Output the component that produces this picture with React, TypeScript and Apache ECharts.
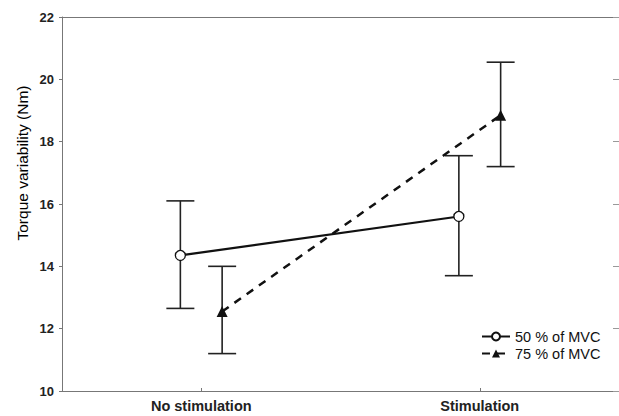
import React, { useEffect, useRef } from "react";
import * as echarts from "echarts";

const categories = ["No stimulation", "Stimulation"];
const seriesNames = ["50 % of MVC", "75 % of MVC"];
const mean50 = [14.35, 15.6];
const low50 = [12.65, 13.7];
const high50 = [16.1, 17.55];
const mean75 = [12.55, 18.85];
const low75 = [11.2, 17.2];
const high75 = [14.0, 20.55];
const yTicks = [10, 12, 14, 16, 18, 20, 22];

const OFFSET = 0.075;
const FONT = "Liberation Sans, Arial, sans-serif";

export default function App() {
  const ref = useRef<HTMLDivElement>(null);
  useEffect(() => {
    if (!ref.current) return;
    const chart = echarts.init(ref.current, null, { renderer: "svg" });
    const x50 = categories.map((_, i) => i - OFFSET);
    const x75 = categories.map((_, i) => i + OFFSET);
    const errData = [
      ...x50.map((x, i) => [x, low50[i], high50[i]]),
      ...x75.map((x, i) => [x, low75[i], high75[i]]),
    ];
    const errStyle = { stroke: "#222", lineWidth: 1.6 };
    chart.setOption({
      animation: false,
      textStyle: { fontFamily: FONT },
      grid: { left: 62, top: 17, width: 560, height: 374 },
      graphic: [
        {
          type: "text",
          x: 22,
          y: 163,
          rotation: Math.PI / 2,
          style: {
            text: "Torque variability (Nm)",
            font: `15.5px ${FONT}`,
            fill: "#000",
            align: "center",
            verticalAlign: "middle",
          },
        },
      ],
      legend: {
        orient: "vertical",
        left: 476,
        top: 323,
        itemWidth: 28,
        itemHeight: 10,
        itemGap: 0,
        data: seriesNames,
        textStyle: { fontSize: 14.5, lineHeight: 17, color: "#111", fontFamily: FONT },
      },
      xAxis: [
        {
          type: "value",
          min: -0.5,
          max: 1.5,
          splitLine: { show: false },
          axisLine: { onZero: false, lineStyle: { color: "#777", width: 1 } },
          axisTick: { inside: true, length: 3, customValues: [0, 1], lineStyle: { color: "#777" } },
          axisLabel: {
            customValues: [0, 1],
            formatter: (v: number) => categories[Math.round(v)] ?? "",
            fontSize: 14.5,
            fontWeight: "bold",
            color: "#222",
            margin: 7,
            fontFamily: FONT,
          },
        },
        {
          type: "value",
          position: "top",
          min: -0.5,
          max: 1.5,
          splitLine: { show: false },
          axisLine: { show: true, onZero: false, lineStyle: { color: "#777", width: 1 } },
          axisTick: { show: false },
          axisLabel: { show: false },
        },
      ],
      yAxis: [
        {
          type: "value",
          min: 10,
          max: 22,
          interval: 2,
          splitLine: { show: false },
          axisLine: { show: true, onZero: false, lineStyle: { color: "#777", width: 1 } },
          axisTick: { show: true, length: 3, lineStyle: { color: "#777" } },
          axisLabel: {
            fontSize: 13,
            fontWeight: "bold",
            color: "#222",
            margin: 8,
            fontFamily: FONT,
            formatter: (v: number) => (yTicks.includes(v) ? String(v) : ""),
          },
        },
        {
          type: "value",
          position: "right",
          min: 10,
          max: 22,
          interval: 2,
          splitLine: { show: false },
          axisLine: { show: true, onZero: false, lineStyle: { color: "#777", width: 1 } },
          axisTick: { show: true, inside: true, length: 6, lineStyle: { color: "#999" } },
          axisLabel: { show: false },
        },
      ],
      series: [
        {
          type: "custom",
          name: "err",
          silent: true,
          data: errData,
          z: 1,
          renderItem: (params: any, api: any) => {
            const x = api.value(0);
            const top = api.coord([x, api.value(2)]);
            const bot = api.coord([x, api.value(1)]);
            const hw = 14;
            return {
              type: "group",
              children: [
                { type: "line", shape: { x1: top[0], y1: top[1], x2: bot[0], y2: bot[1] }, style: errStyle },
                { type: "line", shape: { x1: top[0] - hw, y1: top[1], x2: top[0] + hw, y2: top[1] }, style: errStyle },
                { type: "line", shape: { x1: bot[0] - hw, y1: bot[1], x2: bot[0] + hw, y2: bot[1] }, style: errStyle },
              ],
            };
          },
        },
        {
          type: "line",
          name: seriesNames[0],
          data: x50.map((x, i) => [x, mean50[i]]),
          symbol: "circle",
          symbolSize: 10,
          z: 3,
          lineStyle: { color: "#111", width: 2.2, type: "solid" },
          itemStyle: { color: "#fff", borderColor: "#111", borderWidth: 1.3 },
        },
        {
          type: "line",
          name: seriesNames[1],
          data: x75.map((x, i) => [x, mean75[i]]),
          symbol: "triangle",
          symbolSize: 11,
          z: 2,
          lineStyle: { color: "#111", width: 2.5, type: [8, 7] },
          itemStyle: { color: "#111", borderColor: "#111", borderWidth: 0 },
        },
      ],
    });
    return () => chart.dispose();
  }, []);
  return <div ref={ref} style={{ width: 619, height: 416, position: "absolute", left: 0, top: 0 }} />;
}
